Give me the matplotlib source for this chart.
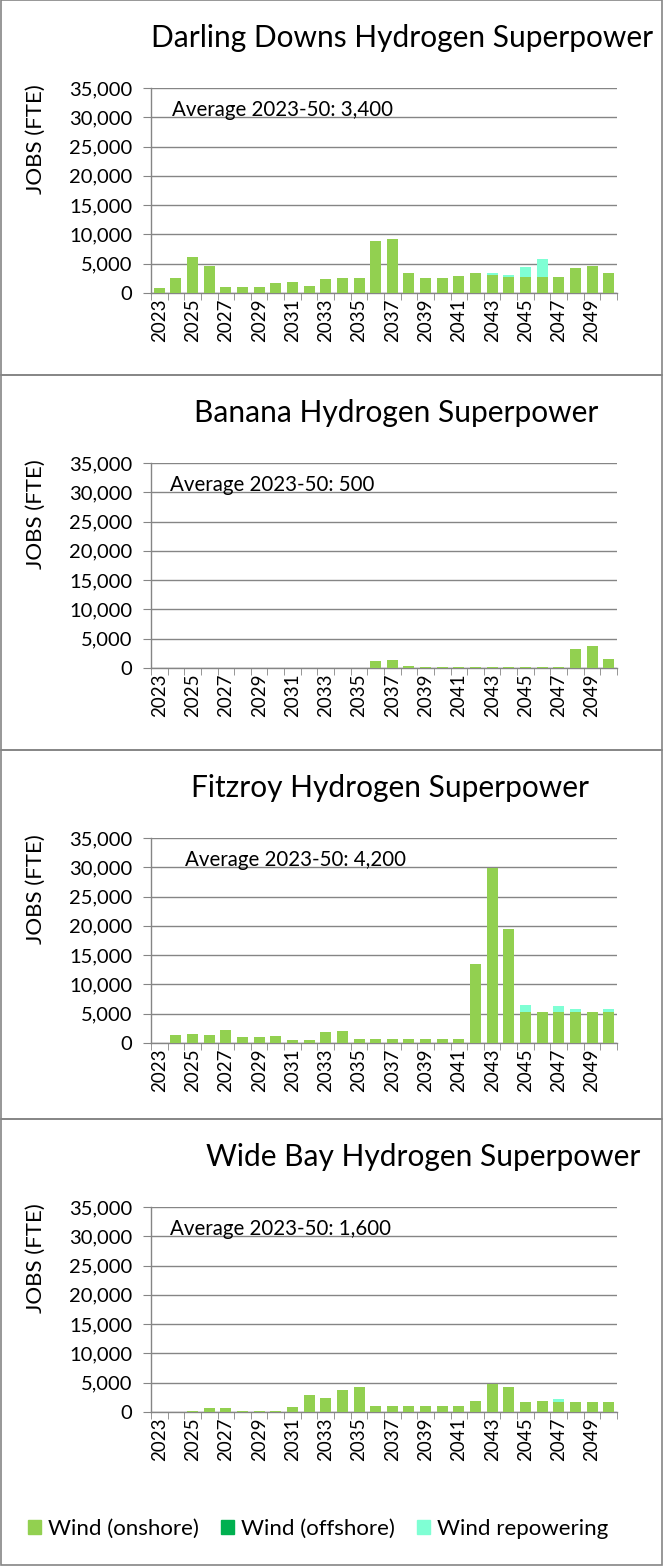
import matplotlib
matplotlib.use("Agg")
import matplotlib.pyplot as plt
from matplotlib.patches import Rectangle, Patch
from matplotlib.ticker import FuncFormatter, FixedLocator

plt.rcParams['font.family'] = ['Lato', 'DejaVu Sans']

years = list(range(2023, 2051))
year_labels = [str(y) if y % 2 == 1 else "" for y in years]

titles = [
    "Darling Downs Hydrogen Superpower",
    "Banana Hydrogen Superpower",
    "Fitzroy Hydrogen Superpower",
    "Wide Bay Hydrogen Superpower",
]
averages = ["3,400", "500", "4,200", "1,600"]

# jobs (FTE) by year
darling_onshore = [800, 2500, 6100, 4550, 950, 950, 950, 1650, 1800, 1150, 2350, 2500, 2500, 8800,
                   9300, 3350, 2500, 2500, 2850, 3350, 3000, 2700, 2700, 2700, 2700, 4200, 4550, 3350]
darling_repower = [0, 0, 0, 0, 0, 0, 0, 0, 0, 0, 0, 0, 0, 0,
                   0, 0, 0, 0, 0, 0, 350, 350, 1700, 3050, 0, 0, 0, 0]

banana_onshore = [0, 0, 0, 0, 0, 0, 0, 0, 0, 0, 0, 0, 0, 1250,
                  1400, 400, 170, 170, 170, 170, 170, 170, 170, 170, 170, 3300, 3800, 1600]
banana_repower = [0] * 28

fitzroy_onshore = [0, 1350, 1550, 1350, 2200, 1050, 1050, 1200, 500, 500, 1900, 2050, 700, 700,
                   700, 700, 700, 700, 700, 13500, 29800, 19500, 5300, 5300, 5300, 5300, 5300, 5300]
fitzroy_repower = [0, 0, 0, 0, 0, 0, 0, 0, 0, 0, 0, 0, 0, 0,
                   0, 0, 0, 0, 0, 0, 0, 0, 1200, 0, 1050, 500, 0, 500]

widebay_onshore = [0, 0, 170, 700, 700, 170, 170, 170, 850, 2900, 2400, 3750, 4250, 1050,
                   1050, 1050, 1050, 1050, 1050, 1850, 4750, 4250, 1700, 1850, 1700, 1700, 1700, 1700]
widebay_repower = [0, 0, 0, 0, 0, 0, 0, 0, 0, 0, 0, 0, 0, 0,
                   0, 0, 0, 0, 0, 0, 0, 0, 0, 0, 500, 0, 0, 0]

offshore = [0] * 28

onshore_sets = [darling_onshore, banana_onshore, fitzroy_onshore, widebay_onshore]
repower_sets = [darling_repower, banana_repower, fitzroy_repower, widebay_repower]

c_on = "#92D050"
c_off = "#00B050"
c_rep = "#7FFFD4"
grey = "#858585"

W, H = 663, 1566
fig = plt.figure(figsize=(W / 100, H / 100), dpi=100)

# panel boxes (pixel coords, top/bottom), axes bottom, title centre x
boxes = [(0, 375), (375, 750), (750, 1119), (1119, 1565)]
ax_bottoms = [293, 668, 1043, 1412]
title_x = [402, 396, 390, 423]
avg_x = [172, 170, 185, 170]
ax_h = 205
ax_left, ax_right = 151, 617

for i in range(4):
    top, bot = boxes[i]
    fig.add_artist(Rectangle((0.5 / W, 1 - bot / H), (W - 2) / W, (bot - top) / H,
                             transform=fig.transFigure, fill=False, edgecolor=grey, lw=1.2))

    b = ax_bottoms[i]
    ax = fig.add_axes([ax_left / W, 1 - b / H, (ax_right - ax_left) / W, ax_h / H])
    x = list(range(len(years)))
    on = onshore_sets[i]
    rep = repower_sets[i]
    ax.bar(x, on, width=0.66, color=c_on, zorder=3)
    ax.bar(x, offshore, bottom=on, width=0.66, color=c_off, zorder=3)
    ax.bar(x, rep, bottom=[a + o for a, o in zip(on, offshore)], width=0.66, color=c_rep, zorder=3)

    ax.set_xlim(-0.5, len(years) - 0.5)
    ax.set_ylim(0, 35000)
    ax.set_yticks(range(0, 35001, 5000))
    ax.yaxis.set_major_formatter(FuncFormatter(lambda v, p: f"{int(v):,}"))
    ax.grid(axis="y", color=grey, lw=1, zorder=0)
    ax.tick_params(axis="y", length=5.8, color=grey, labelsize=14.5, pad=7.5)

    ax.set_xticks(x)
    ax.set_xticklabels(year_labels, rotation=90, fontsize=13.5)
    ax.tick_params(axis="x", which="major", length=0, pad=4)
    ax.xaxis.set_minor_locator(FixedLocator([k - 0.5 for k in range(len(years) + 1)]))
    ax.tick_params(axis="x", which="minor", length=5, color=grey)

    for s in ["top", "right"]:
        ax.spines[s].set_visible(False)
    for s in ["left", "bottom"]:
        ax.spines[s].set_color(grey)
        ax.spines[s].set_linewidth(1)

    fig.text(title_x[i] / W, 1 - (top + 38) / H, titles[i], ha="center", va="center", fontsize=21.5)
    fig.text(36 / W, 1 - (b - 154) / H, "JOBS (FTE)", rotation=90, ha="center", va="center", fontsize=16)
    fig.text(avg_x[i] / W, 1 - (b - 183) / H, f"Average 2023-50: {averages[i]}",
             ha="left", va="center", fontsize=14.8)

handles = [Patch(color=c_on), Patch(color=c_off), Patch(color=c_rep)]
fig.legend(handles, ["Wind (onshore)", "Wind (offshore)", "Wind repowering"],
           loc="center", bbox_to_anchor=(318 / W, 1 - 1529 / H), ncol=3, frameon=False,
           fontsize=16, handlelength=0.6, handleheight=0.6, handletextpad=0.3, columnspacing=1.0)

fig.savefig("out.png", dpi=100)
